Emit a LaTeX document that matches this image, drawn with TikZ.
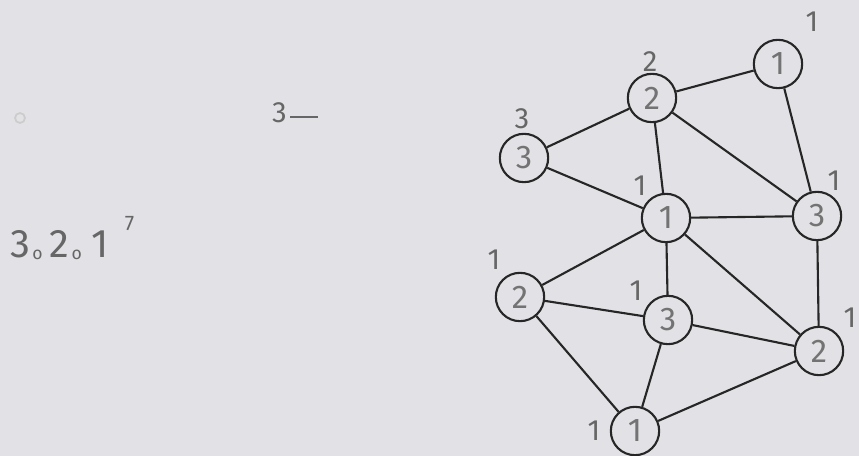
\documentclass[tikz,border=0pt]{standalone}
\usepackage{fontspec}
\setmainfont{Fira Sans}
\begin{document}
\begin{tikzpicture}[x=0.03cm,y=-0.03cm,
  vtx/.style={circle,draw=black!85,line width=1.8pt,minimum size=1.45cm,inner sep=0pt,font=\fontsize{28}{28}\selectfont,text=black!55},
  lbl/.style={font=\fontsize{25}{25}\selectfont,text=black!60},
  edge/.style={draw=black!85,line width=1.8pt}]
\definecolor{paper}{RGB}{226,225,229}
\fill[paper] (0,0) rectangle (859,456);
\useasboundingbox (0,0) rectangle (859,456);
% faint punch mark
\draw[black!20,line width=1.5pt] (20,118) circle (5);
% left texts
\node[lbl,anchor=west] (t3) at (268,113) {3\hspace{3pt}\rule[0.3ex]{24pt}{1.4pt}};
\node[lbl,anchor=west] (seq) at (6,238) {\fontsize{34}{34}\selectfont 3\hspace{2pt}\raisebox{-0.1ex}{\fontsize{15}{15}\selectfont o}\hspace{6pt}2\hspace{2pt}\raisebox{-0.1ex}{\fontsize{15}{15}\selectfont o}\hspace{8pt}1\hspace{14pt}\raisebox{1.3ex}{\fontsize{18}{18}\selectfont 7}};
% vertices
\node[vtx] (A) at (778,64) {1};
\node[vtx] (B) at (652,98) {2};
\node[vtx] (C) at (524,158) {3};
\node[vtx] (D) at (666,218) {1};
\node[vtx] (E) at (817,216) {3};
\node[vtx] (F) at (520,297) {2};
\node[vtx] (G) at (668,320) {3};
\node[vtx] (H) at (819,351) {2};
\node[vtx] (I) at (635,431) {1};
% labels
\node[lbl] (lA) at (812,22) {1};
\node[lbl] (lB) at (650,62) {2};
\node[lbl] (lC) at (522,119) {3};
\node[lbl] (lD) at (640,186) {1};
\node[lbl] (lE) at (834,181) {1};
\node[lbl] (lF) at (494,260) {1};
\node[lbl] (lG) at (636,291) {1};
\node[lbl] (lH) at (850,318) {1};
\node[lbl] (lI) at (594,431) {1};
% edges
\foreach \u/\v in {A/B,A/E,B/C,B/D,B/E,C/D,D/E,D/F,D/G,D/H,E/H,F/G,F/I,G/H,G/I,H/I}
  \draw[edge] (\u) -- (\v);
\end{tikzpicture}
\end{document}
